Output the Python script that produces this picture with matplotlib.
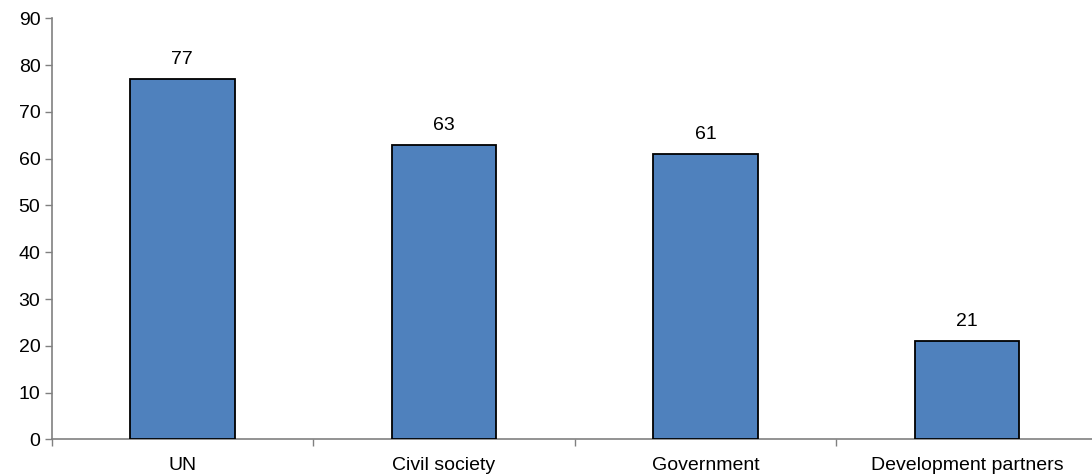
import matplotlib.pyplot as plt
import numpy as np

plt.rcParams['font.family'] = ['Liberation Sans', 'DejaVu Sans']

categories = ["UN", "Civil society", "Government", "Development partners"]
values = [77, 63, 61, 21]

fig = plt.figure(figsize=(10.92, 4.74), dpi=100)
ax = fig.add_axes([0.0472, 0.0728, 0.958, 0.8886])

x = np.arange(len(categories))
ax.bar(x, values, width=0.40, color="#4F81BD", edgecolor="black", linewidth=1.3, zorder=3)

for xi, v in zip(x, values):
    ax.text(xi, v + 2.3, str(v), ha="center", va="bottom", fontsize=14)

ax.set_xlim(-0.5, len(categories) - 0.5)
ax.set_ylim(0, 90)
ax.set_yticks(range(0, 91, 10))
ax.tick_params(axis="y", labelsize=14, length=5, width=1, color="#808080", pad=3)

# category labels at centres, tick marks at the boundaries
ax.set_xticks(x)
ax.set_xticklabels(categories, fontsize=14)
ax.set_xticks(np.arange(-0.5, len(categories)), minor=True)
ax.tick_params(axis="x", which="major", length=0, pad=12.5)
ax.tick_params(axis="x", which="minor", length=5, width=1, color="#808080")

for side in ["top", "right"]:
    ax.spines[side].set_visible(False)
for side in ["left", "bottom"]:
    ax.spines[side].set_color("#808080")
    ax.spines[side].set_linewidth(1.2)

fig.savefig("out.png", dpi=100)
